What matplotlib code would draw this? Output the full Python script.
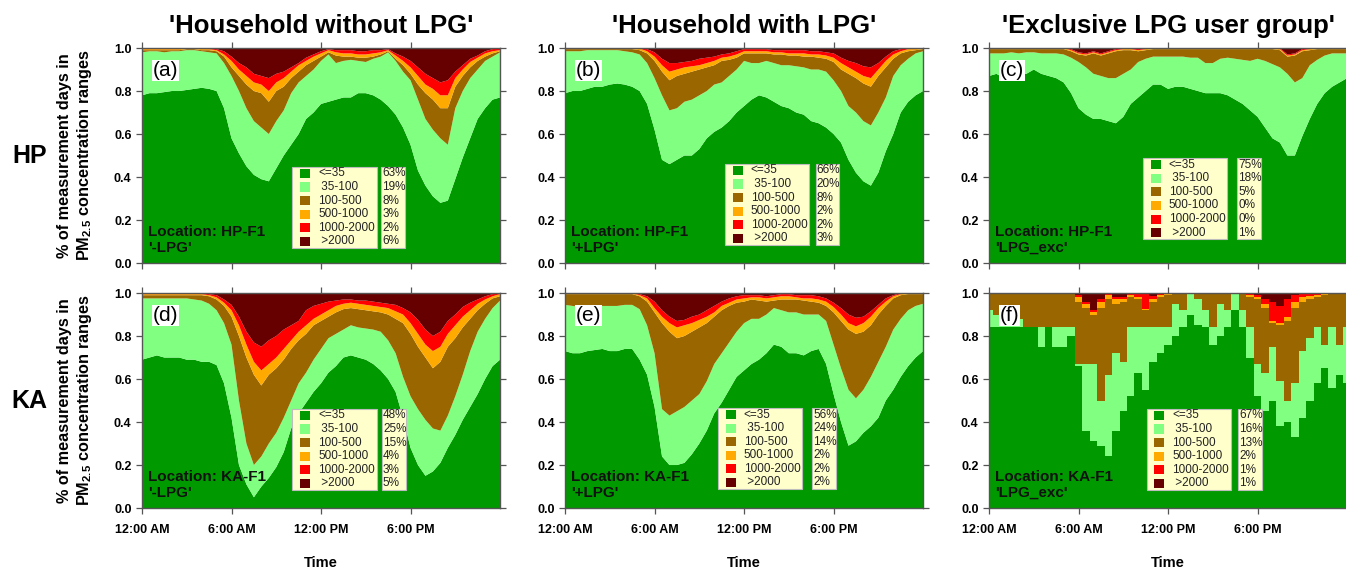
import numpy as np
import matplotlib
matplotlib.use('Agg')
import matplotlib.pyplot as plt
from matplotlib.patches import Rectangle

plt.rcParams['font.family'] = ['Liberation Sans', 'DejaVu Sans']
plt.rcParams['mathtext.fontset'] = 'custom'
plt.rcParams['mathtext.rm'] = 'Liberation Sans'
plt.rcParams['mathtext.bf'] = 'Liberation Sans:bold'

# time of day in hours, half-hour steps
hours = np.arange(0, 24.01, 0.5)

ranges = ['<=35', ' 35-100', '100-500', '500-1000', '1000-2000', ' >2000']
colors = ['#009900', '#80FF80', '#996600', '#FFAA00', '#FF0000', '#660000']
tick_names = ['12:00 AM', '6:00 AM', '12:00 PM', '6:00 PM']
col_titles = ["'Household without LPG'", "'Household with LPG'", "'Exclusive LPG user group'"]
row_names = ['HP', 'KA']

# cumulative fraction of days at or below each class limit
# (a) HP, household without LPG
a_35 = [0.78, 0.79, 0.79, 0.795, 0.80, 0.80, 0.805, 0.81, 0.815, 0.81, 0.80,
        0.72, 0.58, 0.51, 0.45, 0.41, 0.39, 0.38, 0.44, 0.50, 0.55, 0.60, 0.67, 0.70, 0.74,
        0.75, 0.76, 0.77, 0.77, 0.79, 0.79, 0.78, 0.76, 0.73, 0.69, 0.63, 0.55,
        0.43, 0.36, 0.31, 0.28, 0.29, 0.39, 0.49, 0.58, 0.67, 0.72, 0.76, 0.77]
a_100 = [0.98, 0.985, 0.985, 0.98, 0.985, 0.985, 0.99, 0.99, 0.985, 0.98, 0.975,
         0.93, 0.87, 0.80, 0.72, 0.66, 0.63, 0.60, 0.66, 0.71, 0.79, 0.84, 0.87, 0.90, 0.94,
         0.97, 0.93, 0.94, 0.945, 0.94, 0.935, 0.95, 0.96, 0.98, 0.94, 0.89, 0.85,
         0.76, 0.67, 0.62, 0.58, 0.55, 0.72, 0.80, 0.86, 0.90, 0.94, 0.96, 0.98]
a_500 = [0.99, 0.99, 0.99, 0.99, 0.99, 0.99, 0.995, 0.995, 0.99, 0.99, 0.985,
         0.96, 0.91, 0.87, 0.83, 0.80, 0.79, 0.75, 0.80, 0.82, 0.86, 0.89, 0.92, 0.94, 0.96,
         0.98, 0.965, 0.96, 0.96, 0.955, 0.955, 0.96, 0.97, 0.985, 0.95, 0.92, 0.88,
         0.83, 0.79, 0.76, 0.72, 0.72, 0.82, 0.87, 0.91, 0.94, 0.96, 0.975, 0.985]
a_1000 = [0.995, 0.995, 0.995, 0.995, 0.995, 0.995, 1.0, 1.0, 0.995, 0.995, 0.99,
          0.97, 0.94, 0.90, 0.87, 0.84, 0.83, 0.80, 0.84, 0.86, 0.89, 0.92, 0.94, 0.96, 0.975,
          0.99, 0.98, 0.975, 0.975, 0.97, 0.97, 0.975, 0.98, 0.99, 0.965, 0.94, 0.91,
          0.87, 0.83, 0.81, 0.78, 0.78, 0.86, 0.90, 0.935, 0.955, 0.975, 0.985, 0.99]
a_2000 = [1.0, 1.0, 1.0, 1.0, 1.0, 1.0, 1.0, 1.0, 1.0, 1.0, 0.995,
          0.985, 0.96, 0.93, 0.91, 0.88, 0.87, 0.86, 0.88, 0.89, 0.91, 0.93, 0.955, 0.97, 0.985,
          0.995, 0.99, 0.99, 0.99, 0.985, 0.985, 0.99, 0.99, 0.995, 0.975, 0.96, 0.94,
          0.91, 0.88, 0.86, 0.84, 0.85, 0.89, 0.92, 0.95, 0.965, 0.985, 0.995, 1.0]
a_pct = [63, 19, 8, 3, 2, 6]

# (b) HP, household with LPG
b_35 = [0.79, 0.80, 0.80, 0.81, 0.82, 0.82, 0.83, 0.835, 0.83, 0.82, 0.80,
        0.74, 0.62, 0.48, 0.46, 0.48, 0.50, 0.50, 0.53, 0.58, 0.61, 0.63, 0.66, 0.70, 0.73,
        0.76, 0.78, 0.77, 0.75, 0.73, 0.72, 0.70, 0.69, 0.66, 0.65, 0.63, 0.60,
        0.56, 0.48, 0.42, 0.38, 0.36, 0.42, 0.52, 0.60, 0.70, 0.75, 0.78, 0.80]
b_100 = [0.985, 0.985, 0.985, 0.99, 0.99, 0.99, 0.99, 0.99, 0.985, 0.98, 0.97,
         0.93, 0.86, 0.78, 0.71, 0.72, 0.75, 0.76, 0.78, 0.80, 0.83, 0.84, 0.87, 0.90, 0.94,
         0.93, 0.93, 0.94, 0.93, 0.92, 0.92, 0.915, 0.91, 0.90, 0.90, 0.89, 0.85,
         0.80, 0.73, 0.70, 0.66, 0.64, 0.70, 0.77, 0.87, 0.92, 0.95, 0.975, 0.985]
b_500 = [0.995, 0.995, 0.995, 0.995, 0.995, 0.995, 0.995, 0.995, 0.995, 0.995, 0.99,
         0.975, 0.94, 0.89, 0.85, 0.87, 0.88, 0.89, 0.90, 0.91, 0.92, 0.94, 0.945, 0.955, 0.975,
         0.975, 0.975, 0.975, 0.97, 0.97, 0.965, 0.965, 0.96, 0.96, 0.955, 0.95, 0.935,
         0.90, 0.88, 0.86, 0.835, 0.82, 0.87, 0.91, 0.95, 0.975, 0.985, 0.99, 0.995]
b_1000 = [1.0, 1.0, 1.0, 1.0, 1.0, 1.0, 1.0, 1.0, 1.0, 1.0, 0.998,
          0.985, 0.96, 0.92, 0.89, 0.90, 0.91, 0.915, 0.92, 0.93, 0.94, 0.955, 0.96, 0.97, 0.985,
          0.985, 0.985, 0.985, 0.98, 0.98, 0.975, 0.975, 0.975, 0.97, 0.97, 0.965, 0.955,
          0.93, 0.91, 0.89, 0.87, 0.86, 0.90, 0.94, 0.97, 0.985, 0.995, 0.995, 1.0]
b_2000 = [1.0, 1.0, 1.0, 1.0, 1.0, 1.0, 1.0, 1.0, 1.0, 1.0, 1.0,
          0.995, 0.98, 0.95, 0.93, 0.93, 0.935, 0.94, 0.95, 0.955, 0.96, 0.97, 0.975, 0.985, 0.995,
          0.995, 0.995, 0.995, 0.99, 0.99, 0.99, 0.99, 0.99, 0.985, 0.985, 0.98, 0.975,
          0.955, 0.94, 0.93, 0.915, 0.91, 0.93, 0.96, 0.985, 0.995, 1.0, 1.0, 1.0]
b_pct = [66, 20, 8, 2, 2, 3]

# (c) HP, exclusive LPG users
c_35 = [0.87, 0.88, 0.86, 0.87, 0.88, 0.88, 0.90, 0.88, 0.87, 0.86, 0.84,
        0.79, 0.72, 0.69, 0.67, 0.67, 0.66, 0.65, 0.68, 0.74, 0.77, 0.80, 0.83, 0.83, 0.81,
        0.82, 0.82, 0.81, 0.80, 0.79, 0.79, 0.79, 0.78, 0.76, 0.74, 0.71, 0.68,
        0.63, 0.58, 0.56, 0.50, 0.50, 0.59, 0.67, 0.74, 0.79, 0.82, 0.84, 0.86]
c_100 = [0.975, 0.975, 0.975, 0.98, 0.975, 0.98, 0.98, 0.975, 0.975, 0.975, 0.97,
         0.955, 0.935, 0.91, 0.88, 0.87, 0.86, 0.86, 0.88, 0.90, 0.935, 0.95, 0.96, 0.96, 0.96,
         0.96, 0.96, 0.955, 0.955, 0.93, 0.93, 0.95, 0.955, 0.95, 0.945, 0.94, 0.95,
         0.94, 0.925, 0.91, 0.88, 0.84, 0.86, 0.92, 0.945, 0.965, 0.975, 0.975, 0.975]
c_500 = [0.995, 0.995, 0.995, 0.995, 0.995, 0.995, 0.995, 0.995, 0.995, 0.995, 0.995,
         0.985, 0.97, 0.965, 0.975, 0.965, 0.975, 0.985, 0.99, 0.99, 0.985, 0.99, 0.995, 0.995, 0.995,
         0.995, 0.995, 0.995, 0.995, 0.995, 0.995, 0.995, 0.995, 0.995, 0.995, 0.995, 0.995,
         0.995, 0.995, 0.99, 0.96, 0.965, 0.985, 0.99, 0.995, 0.995, 0.995, 0.995, 0.995]
c_1000 = [1.0, 1.0, 1.0, 1.0, 1.0, 1.0, 1.0, 1.0, 1.0, 1.0, 1.0,
          0.99, 0.975, 0.97, 0.98, 0.97, 0.98, 0.99, 0.995, 0.995, 0.99, 0.995, 1.0, 1.0, 1.0,
          1.0, 1.0, 1.0, 1.0, 1.0, 1.0, 1.0, 1.0, 1.0, 1.0, 1.0, 1.0,
          1.0, 1.0, 0.995, 0.965, 0.97, 0.99, 0.995, 1.0, 1.0, 1.0, 1.0, 1.0]
c_2000 = [1.0, 1.0, 1.0, 1.0, 1.0, 1.0, 1.0, 1.0, 1.0, 1.0, 1.0,
          0.995, 0.98, 0.975, 0.985, 0.975, 0.985, 0.995, 1.0, 1.0, 0.995, 1.0, 1.0, 1.0, 1.0,
          1.0, 1.0, 1.0, 1.0, 1.0, 1.0, 1.0, 1.0, 1.0, 1.0, 1.0, 1.0,
          1.0, 1.0, 1.0, 0.97, 0.975, 0.995, 1.0, 1.0, 1.0, 1.0, 1.0, 1.0]
c_pct = [75, 18, 5, 0, 0, 1]

# (d) KA, household without LPG
d_35 = [0.69, 0.70, 0.71, 0.70, 0.70, 0.70, 0.69, 0.69, 0.68, 0.68, 0.665,
        0.58, 0.42, 0.20, 0.11, 0.05, 0.10, 0.14, 0.19, 0.26, 0.37, 0.44, 0.49, 0.54, 0.58,
        0.63, 0.66, 0.70, 0.71, 0.70, 0.69, 0.67, 0.64, 0.60, 0.54, 0.42, 0.28,
        0.20, 0.15, 0.17, 0.21, 0.28, 0.34, 0.41, 0.47, 0.53, 0.60, 0.66, 0.69]
d_100 = [0.975, 0.975, 0.975, 0.975, 0.975, 0.975, 0.975, 0.97, 0.965, 0.95, 0.92,
         0.86, 0.76, 0.50, 0.30, 0.20, 0.24, 0.30, 0.35, 0.42, 0.50, 0.58, 0.63, 0.69, 0.74,
         0.79, 0.81, 0.83, 0.85, 0.84, 0.835, 0.83, 0.82, 0.78, 0.72, 0.61, 0.52,
         0.46, 0.41, 0.37, 0.36, 0.43, 0.52, 0.62, 0.73, 0.82, 0.88, 0.93, 0.965]
d_500 = [0.99, 0.99, 0.99, 0.99, 0.99, 0.99, 0.99, 0.99, 0.99, 0.985, 0.97,
         0.94, 0.89, 0.80, 0.70, 0.62, 0.57, 0.62, 0.65, 0.69, 0.74, 0.78, 0.81, 0.85, 0.87,
         0.89, 0.91, 0.925, 0.93, 0.925, 0.92, 0.915, 0.91, 0.90, 0.88, 0.86, 0.81,
         0.75, 0.70, 0.65, 0.68, 0.75, 0.79, 0.84, 0.88, 0.92, 0.95, 0.975, 0.985]
d_1000 = [0.995, 0.995, 0.995, 0.995, 0.995, 0.995, 0.995, 0.995, 0.995, 0.99, 0.98,
          0.955, 0.92, 0.85, 0.76, 0.68, 0.64, 0.67, 0.70, 0.74, 0.78, 0.82, 0.85, 0.88, 0.90,
          0.92, 0.94, 0.95, 0.955, 0.95, 0.945, 0.94, 0.935, 0.93, 0.915, 0.90, 0.86,
          0.81, 0.76, 0.73, 0.75, 0.81, 0.85, 0.89, 0.92, 0.95, 0.97, 0.985, 0.995]
d_2000 = [1.0, 1.0, 1.0, 1.0, 1.0, 1.0, 1.0, 1.0, 1.0, 0.995, 0.99,
          0.97, 0.945, 0.89, 0.82, 0.77, 0.75, 0.78, 0.80, 0.83, 0.85, 0.87, 0.92, 0.94, 0.95,
          0.96, 0.965, 0.97, 0.97, 0.965, 0.965, 0.96, 0.955, 0.95, 0.945, 0.93, 0.91,
          0.875, 0.83, 0.80, 0.82, 0.87, 0.90, 0.935, 0.955, 0.97, 0.985, 0.995, 1.0]
d_pct = [48, 25, 15, 4, 3, 5]

# (e) KA, household with LPG
e_35 = [0.73, 0.72, 0.72, 0.73, 0.735, 0.74, 0.73, 0.73, 0.74, 0.74, 0.69,
        0.62, 0.47, 0.24, 0.20, 0.20, 0.21, 0.25, 0.30, 0.36, 0.44, 0.49, 0.55, 0.61, 0.64,
        0.67, 0.69, 0.72, 0.76, 0.75, 0.72, 0.72, 0.71, 0.73, 0.74, 0.67, 0.53,
        0.40, 0.29, 0.31, 0.35, 0.38, 0.42, 0.50, 0.55, 0.61, 0.66, 0.70, 0.73]
e_100 = [0.945, 0.94, 0.935, 0.935, 0.935, 0.94, 0.94, 0.94, 0.945, 0.945, 0.925,
         0.85, 0.72, 0.46, 0.43, 0.45, 0.47, 0.50, 0.53, 0.59, 0.67, 0.72, 0.77, 0.82, 0.86,
         0.88, 0.88, 0.90, 0.93, 0.92, 0.91, 0.91, 0.90, 0.90, 0.90, 0.87, 0.76,
         0.65, 0.55, 0.51, 0.55, 0.61, 0.68, 0.75, 0.83, 0.88, 0.92, 0.94, 0.95]
e_500 = [0.995, 0.995, 0.995, 0.995, 0.995, 0.995, 0.995, 0.995, 0.995, 0.995, 0.985,
         0.96, 0.91, 0.86, 0.82, 0.79, 0.80, 0.82, 0.84, 0.86, 0.89, 0.92, 0.94, 0.955, 0.96,
         0.97, 0.965, 0.96, 0.965, 0.97, 0.97, 0.97, 0.965, 0.96, 0.955, 0.94, 0.91,
         0.87, 0.83, 0.81, 0.82, 0.85, 0.90, 0.94, 0.975, 0.99, 0.995, 0.995, 0.995]
e_1000 = [1.0, 1.0, 1.0, 1.0, 1.0, 1.0, 1.0, 1.0, 1.0, 1.0, 0.99,
          0.975, 0.93, 0.89, 0.86, 0.84, 0.85, 0.86, 0.875, 0.89, 0.91, 0.94, 0.955, 0.97, 0.975,
          0.98, 0.98, 0.975, 0.98, 0.985, 0.985, 0.98, 0.975, 0.975, 0.97, 0.96, 0.935,
          0.90, 0.86, 0.845, 0.86, 0.89, 0.93, 0.96, 0.985, 0.995, 1.0, 1.0, 1.0]
e_2000 = [1.0, 1.0, 1.0, 1.0, 1.0, 1.0, 1.0, 1.0, 1.0, 1.0, 0.995,
          0.985, 0.96, 0.92, 0.89, 0.87, 0.875, 0.89, 0.90, 0.92, 0.94, 0.96, 0.975, 0.985, 0.99,
          0.99, 0.99, 0.985, 0.99, 0.995, 0.995, 0.99, 0.99, 0.99, 0.985, 0.975, 0.955,
          0.93, 0.90, 0.885, 0.89, 0.915, 0.945, 0.975, 0.99, 1.0, 1.0, 1.0, 1.0]
e_pct = [56, 24, 14, 2, 2, 2]

# (f) KA, exclusive LPG users
f_35 = [0.84, 0.84, 0.84, 0.84, 0.84, 0.84, 0.84, 0.75, 0.84, 0.75, 0.75,
        0.80, 0.66, 0.36, 0.31, 0.29, 0.24, 0.36, 0.45, 0.52, 0.63, 0.55, 0.68, 0.72, 0.76,
        0.80, 0.84, 0.90, 0.85, 0.84, 0.76, 0.80, 0.84, 0.92, 0.84, 0.70, 0.52,
        0.45, 0.50, 0.38, 0.40, 0.33, 0.42, 0.50, 0.58, 0.65, 0.56, 0.62, 0.58]
f_100 = [0.92, 0.90, 0.87, 0.87, 0.88, 0.84, 0.84, 0.84, 0.84, 0.84, 0.84,
         0.84, 0.67, 0.67, 0.67, 0.50, 0.62, 0.72, 0.68, 0.84, 0.84, 0.84, 0.84, 0.84, 0.84,
         0.95, 0.92, 1.0, 0.97, 0.92, 0.84, 0.95, 0.92, 1.0, 0.92, 0.84, 0.67,
         0.63, 0.75, 0.59, 0.50, 0.58, 0.73, 0.79, 0.84, 0.76, 0.84, 0.76, 0.84]
f_500 = [1.0, 1.0, 1.0, 1.0, 1.0, 1.0, 1.0, 1.0, 1.0, 1.0, 1.0,
         1.0, 0.96, 0.93, 0.90, 0.93, 0.97, 0.95, 0.96, 0.98, 0.97, 0.92, 0.96, 0.98, 0.99,
         1.0, 1.0, 1.0, 1.0, 1.0, 1.0, 1.0, 1.0, 1.0, 1.0, 0.98, 0.97,
         0.93, 0.86, 0.85, 0.87, 0.93, 0.96, 0.97, 0.98, 0.99, 1.0, 1.0, 1.0]
f_1000 = [1.0, 1.0, 1.0, 1.0, 1.0, 1.0, 1.0, 1.0, 1.0, 1.0, 1.0,
          1.0, 0.98, 0.95, 0.91, 0.96, 0.99, 0.97, 0.97, 0.99, 0.98, 0.925, 0.97, 0.99, 1.0,
          1.0, 1.0, 1.0, 1.0, 1.0, 1.0, 1.0, 1.0, 1.0, 1.0, 0.99, 0.98,
          0.95, 0.87, 0.86, 0.89, 0.96, 0.98, 0.985, 0.99, 1.0, 1.0, 1.0, 1.0]
f_2000 = [1.0, 1.0, 1.0, 1.0, 1.0, 1.0, 1.0, 1.0, 1.0, 1.0, 1.0,
          1.0, 0.99, 0.96, 0.92, 0.97, 1.0, 0.98, 0.98, 1.0, 1.0, 1.0, 0.985, 1.0, 1.0,
          1.0, 1.0, 1.0, 1.0, 1.0, 1.0, 1.0, 1.0, 1.0, 1.0, 1.0, 0.99,
          0.97, 0.96, 0.94, 0.97, 0.99, 1.0, 1.0, 1.0, 1.0, 1.0, 1.0, 1.0]
f_pct = [67, 16, 13, 2, 1, 1]

panels = [
    ('(a)', [a_35, a_100, a_500, a_1000, a_2000], a_pct, 'HP-F1', "'-LPG'"),
    ('(b)', [b_35, b_100, b_500, b_1000, b_2000], b_pct, 'HP-F1', "'+LPG'"),
    ('(c)', [c_35, c_100, c_500, c_1000, c_2000], c_pct, 'HP-F1', "'LPG_exc'"),
    ('(d)', [d_35, d_100, d_500, d_1000, d_2000], d_pct, 'KA-F1', "'-LPG'"),
    ('(e)', [e_35, e_100, e_500, e_1000, e_2000], e_pct, 'KA-F1', "'+LPG'"),
    ('(f)', [f_35, f_100, f_500, f_1000, f_2000], f_pct, 'KA-F1', "'LPG_exc'"),
]

# layout (figure fractions / axes fractions)
col_left = [0.1055, 0.4198, 0.7348]
row_bottom = [0.5394, 0.1103]
ax_w, ax_h = 0.266, 0.3765
key_x = [0.42, 0.447, 0.43, 0.42, 0.427, 0.44]
key_y = [0.07, 0.084, 0.11, 0.084, 0.088, 0.084]
pct_x = [0.668, 0.70, 0.693, 0.67, 0.69, 0.696]
frame = '#555555'

fig = plt.figure(figsize=(13.46, 5.71), dpi=100)

for i, (tag, edges, pct, site, group) in enumerate(panels):
    r, c = divmod(i, 3)
    ax = fig.add_axes([col_left[c], row_bottom[r], ax_w, ax_h])

    bounds = np.vstack([np.zeros(len(hours))] + [np.array(e) for e in edges] + [np.ones(len(hours))])
    layers = np.diff(bounds, axis=0)
    if c == 2 and r == 1:
        ax.stackplot(hours, layers, colors=colors, step='mid', lw=0)
    else:
        ax.stackplot(hours, layers, colors=colors, lw=0)

    ax.set_xlim(0, 24)
    ax.set_ylim(0, 1.0)
    ax.set_yticks(np.arange(0, 1.01, 0.2))
    ax.set_yticklabels(['%.1f' % v for v in np.arange(0, 1.01, 0.2)])
    ax.set_xticks([0, 6, 12, 18])
    if r == 1:
        ax.set_xticklabels(tick_names)
    else:
        ax.set_xticklabels([])
    ax.tick_params(direction='out', top=True, right=True, length=4.5, width=0.9,
                   color=frame, labelsize=9, pad=3)
    ax.tick_params(axis='x', pad=7)
    for lab in ax.get_xticklabels() + ax.get_yticklabels():
        lab.set_fontweight('bold')
    for sp in ax.spines.values():
        sp.set_color(frame)
        sp.set_linewidth(1.0)

    # panel tag
    ax.text(0.03, 0.895, tag, transform=ax.transAxes, fontsize=15, ha='left', va='center',
            bbox=dict(fc='white', ec='none', pad=0.5), zorder=8)

    # location label
    ax.text(0.017, 0.144, 'Location: ' + site, transform=ax.transAxes, fontsize=11,
            fontweight='bold', color='#111111', ha='left', va='center', zorder=8)
    ax.text(0.017, 0.07, group, transform=ax.transAxes, fontsize=11,
            fontweight='bold', color='#111111', ha='left', va='center', zorder=8)

    # key with shares
    x0, y0, px = key_x[i], key_y[i], pct_x[i]
    bw, bh = 0.235, 0.378
    ax.add_patch(Rectangle((x0, y0), bw, bh, transform=ax.transAxes, fc='#FFFFCC',
                           ec='#BDBDBD', lw=0.8, zorder=5))
    ax.add_patch(Rectangle((px, y0), 0.066, bh, transform=ax.transAxes, fc='#FFFFCC',
                           ec='#BDBDBD', lw=0.8, zorder=5))
    rh = bh / 6
    for k in range(6):
        yc = y0 + bh - (k + 0.5) * rh
        ax.add_patch(Rectangle((x0 + 0.022, yc - 0.021), 0.028, 0.042, transform=ax.transAxes,
                               fc=colors[k], ec='none', zorder=6))
        ax.text(x0 + 0.072, yc, ranges[k], transform=ax.transAxes, fontsize=8.5,
                color='#222222', ha='left', va='center', zorder=7)
        ax.text(px + 0.003, yc, '%d%%' % pct[k], transform=ax.transAxes, fontsize=8.5,
                color='#222222', ha='left', va='center', zorder=7)

for c in range(3):
    xc = col_left[c] + ax_w / 2
    fig.text(xc, 0.955, col_titles[c], fontsize=18.5, fontweight='bold', ha='center', va='center')
    fig.text(xc, 0.014, 'Time', fontsize=10.5, fontweight='bold', ha='center', va='center')

# row names and a y label for each row, centred on that row
for r in range(2):
    yc = row_bottom[r] + ax_h / 2
    fig.text(0.022, yc, row_names[r], fontsize=18, fontweight='bold', ha='center', va='center')
    fig.text(0.048, yc, '% of measurement days in', rotation=90, fontsize=11.7,
             fontweight='bold', ha='center', va='center')
    fig.text(0.063, yc, r'PM$_{\mathbf{2.5}}$ concentration ranges', rotation=90, fontsize=11.7,
             fontweight='bold', ha='center', va='center')

fig.savefig('out.png', dpi=100)
